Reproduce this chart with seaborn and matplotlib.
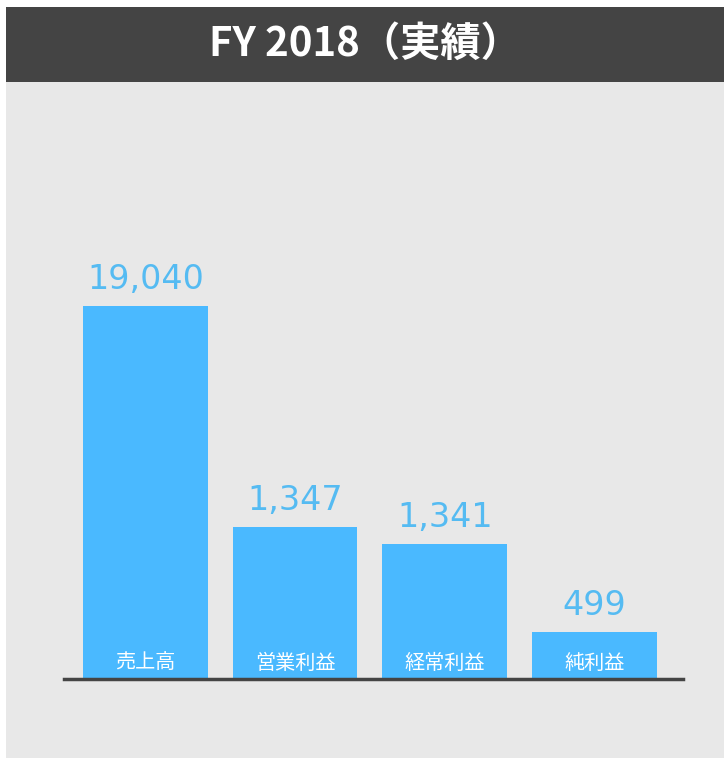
import matplotlib
matplotlib.use('Agg')
import pandas as pd
import seaborn as sns
from matplotlib import pyplot as plt
from matplotlib.patches import Rectangle

# Chart data (values as printed; bar heights as drawn in the source, which is not to scale)
categories = ['売上高', '営業利益', '経常利益', '純利益']
values = [19040, 1347, 1341, 499]
bar_heights = [373, 152, 135, 47]
title = 'FY 2018（実績）'

df = pd.DataFrame({'category': categories, 'height': bar_heights, 'value': values})

sns.set_theme(style='white')
plt.rcParams['font.family'] = ['Noto Sans CJK JP', 'DejaVu Sans']

bar_color = '#4AB9FF'
label_color = '#55BBF2'

fig = plt.figure(figsize=(7.24, 7.58), dpi=100)
fig.patch.set_facecolor('white')

# grey panel and dark header band (behind the axes)
fig.patches.append(Rectangle((6 / 724, 0), 1, (758 - 82) / 758, transform=fig.transFigure,
                             facecolor='#E8E8E8', edgecolor='none', zorder=-2))
fig.patches.append(Rectangle((6 / 724, (758 - 82) / 758), 1, 75 / 758, transform=fig.transFigure,
                             facecolor='#444444', edgecolor='none', zorder=-2))
fig.text((6 + 724) / 2 / 724, (758 - 44) / 758, title, color='white', fontsize=29,
         fontweight='bold', ha='center', va='center')

ax = fig.add_axes([64 / 724, 79 / 758, (683 - 64) / 724, (679 - 82) / 758])
ax.set_facecolor('none')
sns.barplot(data=df, x='category', y='height', color=bar_color, saturation=1,
            width=0.833, linewidth=0, ax=ax)
ax.set_xlim(-0.543, 3.59)
ax.set_ylim(0, 597)

for i, row in df.iterrows():
    ax.text(i, row['height'] + 10, f"{row['value']:,}", ha='center', va='bottom',
            color=label_color, fontsize=24, family='DejaVu Sans')
    ax.text(i, 16, row['category'], ha='center', va='center', color='white', fontsize=14.5)

for s in ['top', 'right', 'left']:
    ax.spines[s].set_visible(False)
ax.spines['bottom'].set_color('#444444')
ax.spines['bottom'].set_linewidth(2.5)
ax.set_xticks([])
ax.set_yticks([])
ax.set_xlabel('')
ax.set_ylabel('')

fig.savefig('out.png', dpi=100)
